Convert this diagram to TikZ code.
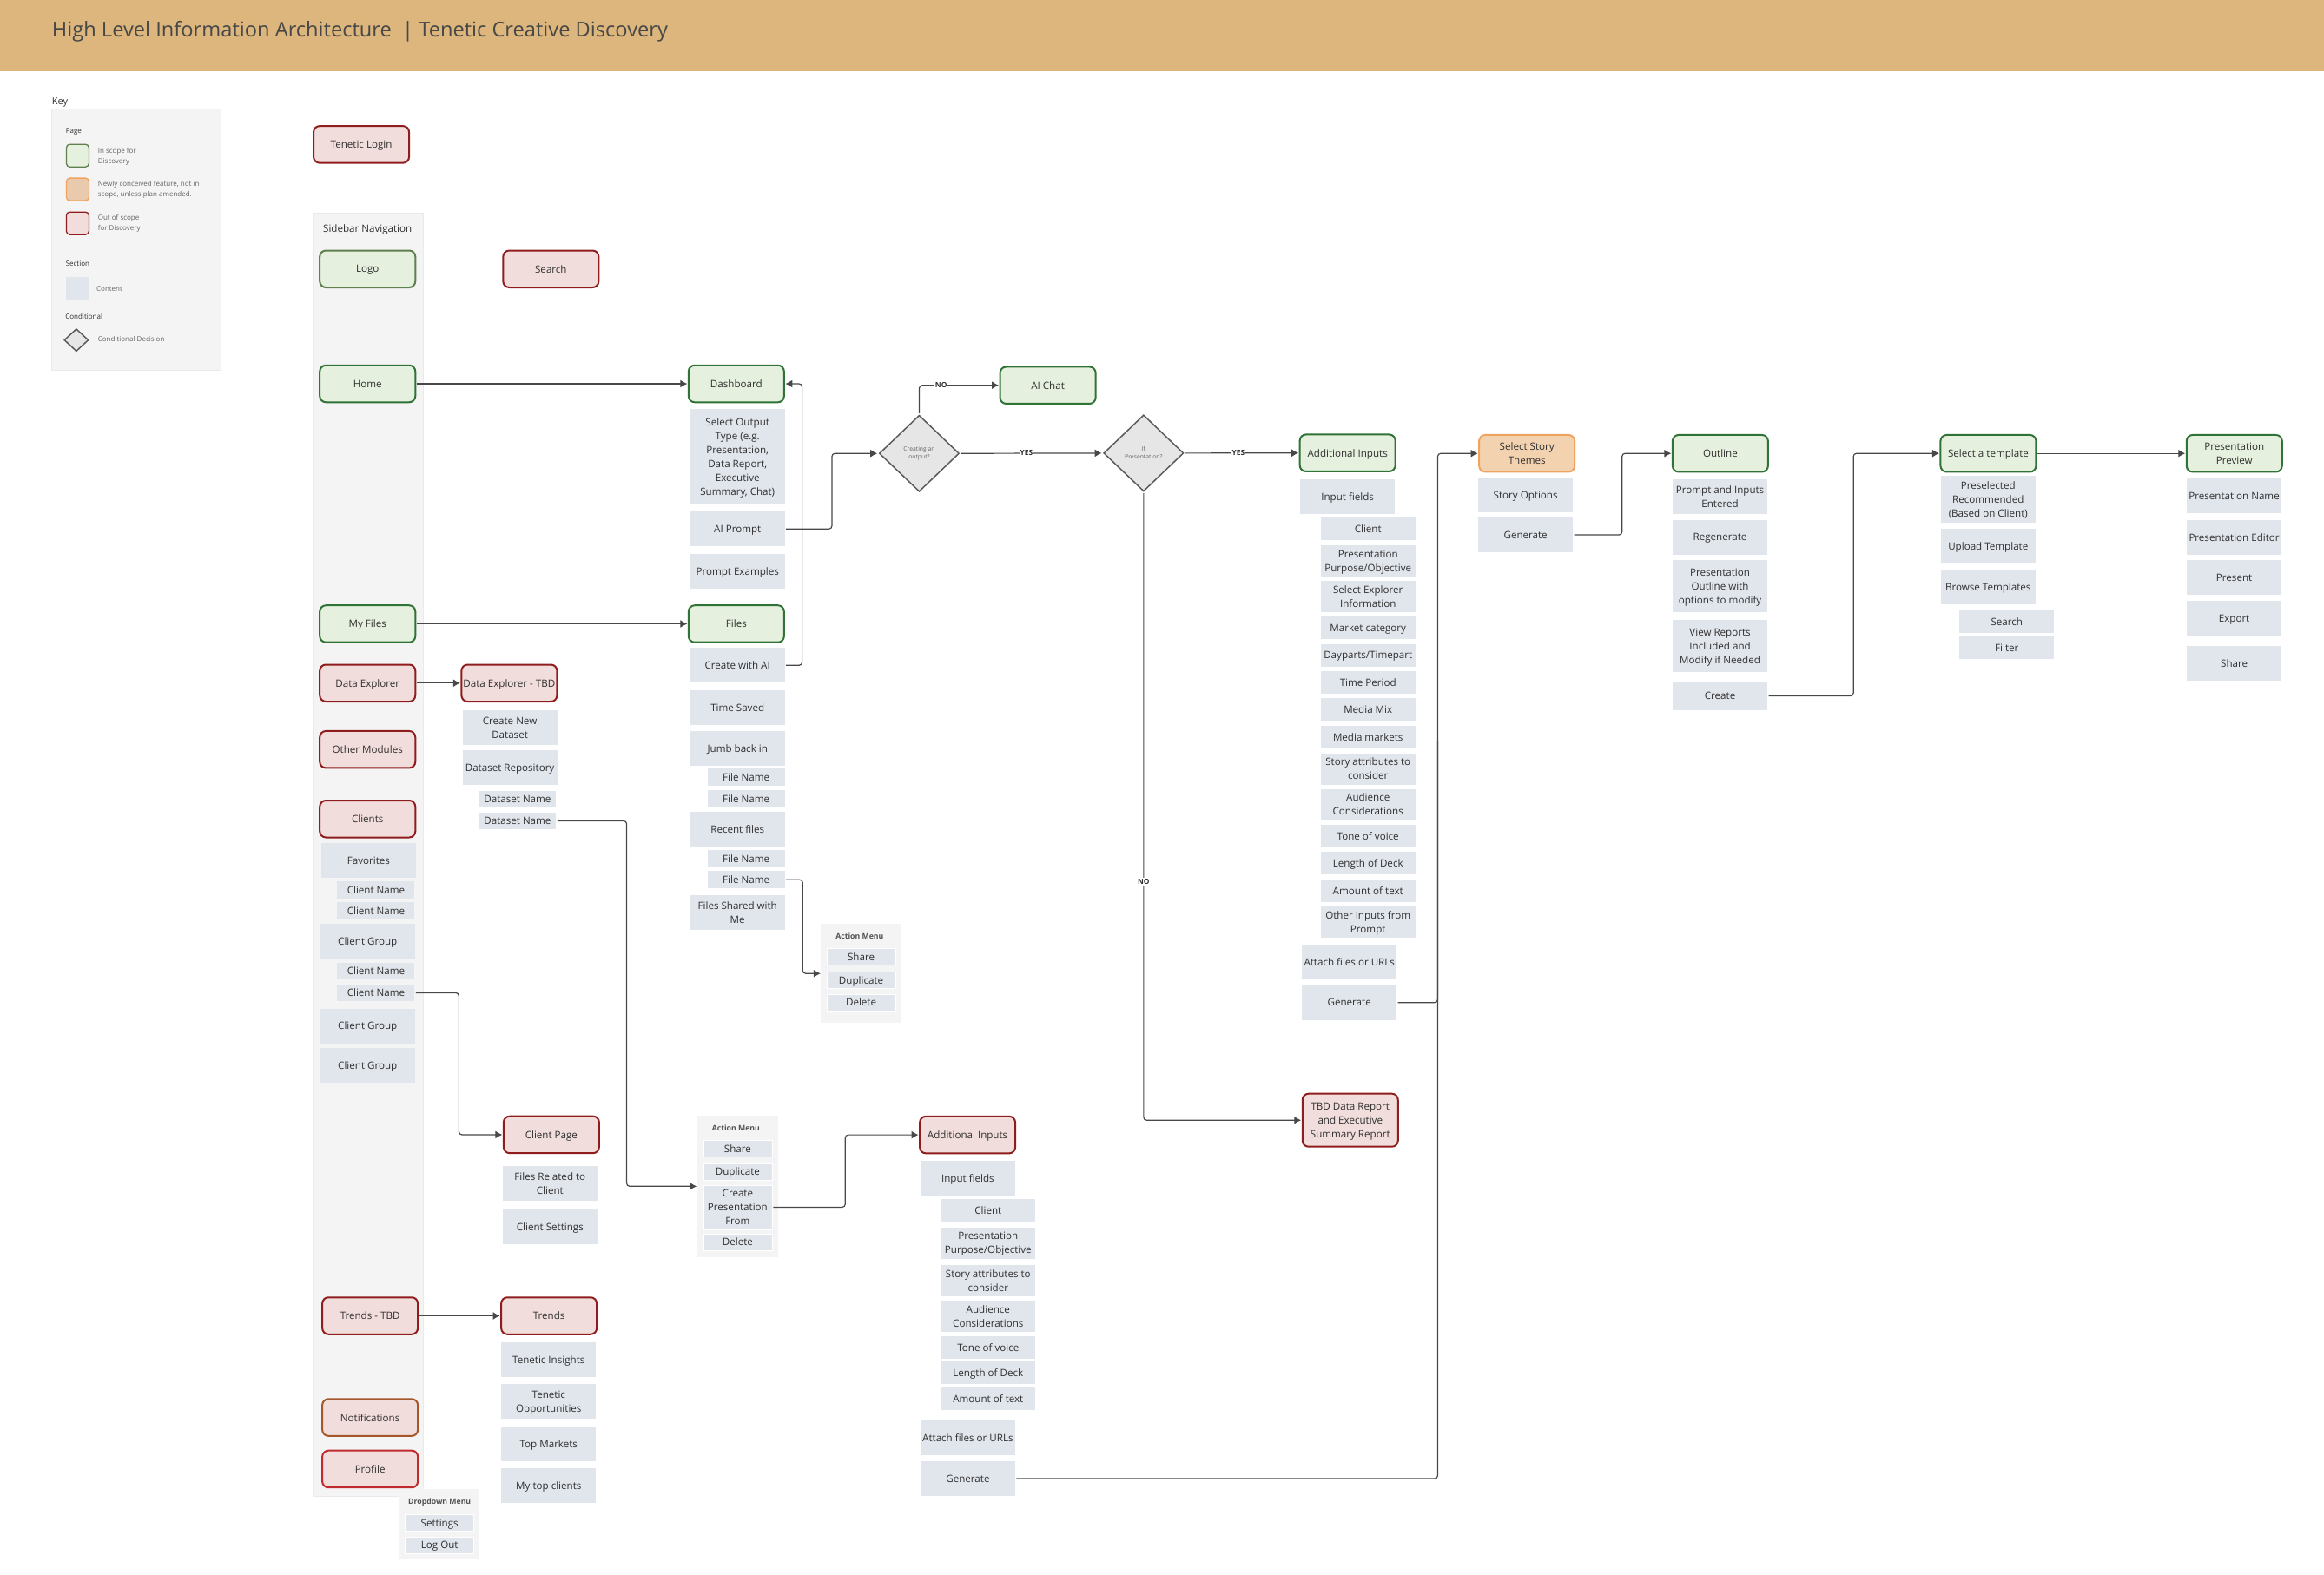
\documentclass[tikz,border=0pt]{standalone}
\usepackage{fontspec}
\setmainfont{Open Sans}
\usetikzlibrary{arrows.meta,shapes.geometric}

\definecolor{headerfill}{HTML}{DCB67C}
\definecolor{titleink}{HTML}{474747}
\definecolor{bodyink}{HTML}{303030}
\definecolor{keyink}{HTML}{666666}
\definecolor{panelfill}{HTML}{F4F4F4}
\definecolor{panelline}{HTML}{EAEAEA}
\definecolor{contentfill}{HTML}{E1E5EC}
\definecolor{greenfill}{HTML}{E6F0DE}
\definecolor{greenline}{HTML}{2F7336}
\definecolor{oliveline}{HTML}{5F7F4F}
\definecolor{redfill}{HTML}{F1DDDB}
\definecolor{redline}{HTML}{8F1D1D}
\definecolor{rustline}{HTML}{A5562A}
\definecolor{brightline}{HTML}{C02A2D}
\definecolor{orangefill}{HTML}{F3D2B0}
\definecolor{orangeline}{HTML}{F0A35E}
\definecolor{swatchorange}{HTML}{EACAAC}
\definecolor{condfill}{HTML}{E6E6E6}
\definecolor{condline}{HTML}{5A5A5A}
\definecolor{wireink}{HTML}{484848}

\tikzset{
    bodytext/.style={font=\fontsize{11.6}{16}\selectfont, text=bodyink, align=center, inner sep=0pt, outer sep=0pt, text depth=-1pt},
    pagebox/.style={bodytext, rounded corners=7pt, line width=2pt, minimum width=110pt, minimum height=42.5pt},
    inscope/.style={pagebox, fill=greenfill, draw=greenline},
    outscope/.style={pagebox, fill=redfill, draw=redline},
    newidea/.style={pagebox, fill=orangefill, draw=orangeline},
    item/.style={bodytext, fill=contentfill, minimum width=109pt, minimum height=#1},
    item/.default=40pt,
    fielditem/.style={item=26pt},
    fieldtwo/.style={item=36pt},
    subitem/.style={bodytext, fill=contentfill, minimum width=89pt, minimum height=19.5pt},
    menuitem/.style={bodytext, fill=contentfill, draw=white, line width=0.8pt, minimum width=79pt, minimum height=#1},
    menuitem/.default=19pt,
    menuhead/.style={bodytext, font=\fontsize{8.7}{10}\selectfont\bfseries, text=keyink!80!black},
    panel/.style={fill=panelfill, draw=panelline, line width=0.6pt},
    keytext/.style={font=\fontsize{8}{12}\selectfont, text=keyink, align=left, anchor=west, inner sep=0pt, text depth=-1pt},
    keyhead/.style={font=\fontsize{8}{12}\selectfont, text=bodyink, anchor=west, inner sep=0pt, text depth=-1pt},
    swatch/.style={rounded corners=4pt, line width=1.3pt, minimum width=26pt, minimum height=26pt, inner sep=0pt},
    decision/.style={diamond, fill=condfill, draw=condline, line width=1.5pt, inner sep=0pt, align=center,
        font=\fontsize{6.8}{9}\selectfont, text=keyink, minimum width=92pt, minimum height=88pt},
    answer/.style={font=\fontsize{8.4}{10}\selectfont\bfseries, text=bodyink, fill=white, inner sep=1pt},
    wire/.style={draw=wireink, line width=1.2pt, rounded corners=3.5pt, shorten <=1.5pt},
    arrow/.style={wire, -{Latex[length=8pt,width=9pt]}, shorten >=1.5pt},
}

\begin{document}
\begin{tikzpicture}[x=1.70663pt, y=-1.70663pt]
        \useasboundingbox (0,0) rectangle (1568,1062.9);

        % Header
        \fill[headerfill] (0,0) rectangle (1568,47.9);
        \node[anchor=west, inner sep=0pt, font=\fontsize{23.65}{28}\selectfont, text=titleink, text depth=-1pt] (title) at (35,19.5)
            {High Level Information Architecture~~| Tenetic Creative Discovery};

        % Panels
        \draw[panel] (35,73.4) rectangle (149,250);
        \draw[panel] (211,144) rectangle (285.5,1010);
        \fill[panelfill] (269.5,1005) rectangle (323.6,1052);
        \fill[panelfill] (554,623.4) rectangle (608.3,690);
        \fill[panelfill] (470.5,753) rectangle (524.8,848.3);

        % Key
        \node[anchor=west, inner sep=0pt, font=\fontsize{11}{12}\selectfont, text=bodyink, text depth=-1pt] (keylabel) at (35,68.5) {Key};
        \node[keyhead] (keypage) at (44.3,88) {Page};
        \node[swatch, fill=greenfill, draw=oliveline] (swatchA) at (52.4,105) {};
        \node[keytext] (keyA) at (66,105) {In scope for\\Discovery};
        \node[swatch, fill=swatchorange, draw=orangeline] (swatchB) at (52.4,127.8) {};
        \node[keytext] (keyB) at (66,127.3) {Newly conceived feature, not in\\scope, unless plan amended.};
        \node[swatch, fill=redfill, draw=redline] (swatchC) at (52.4,150.7) {};
        \node[keytext] (keyC) at (66,150) {Out of scope\\for Discovery};
        \node[keyhead] (keysection) at (44.3,177.7) {Section};
        \node[fill=contentfill, minimum width=26.5pt, minimum height=26.5pt, inner sep=0pt] (swatchD) at (52.2,194.8) {};
        \node[keytext] (keyD) at (65,195) {Content};
        \node[keyhead] (keycond) at (44,213.7) {Conditional};
        \node[decision, minimum width=28pt, minimum height=26pt] (swatchE) at (51.5,229.5) {};
        \node[keytext] (keyE) at (66,229) {Conditional Decision};

        % Sidebar
        \node[outscope] (login) at (243.8,97.5) {Tenetic Login};
        \node[bodytext] (sidebar) at (248,154) {Sidebar Navigation};
        \node[inscope, draw=oliveline] (logo) at (248,181.5) {Logo};
        \node[outscope] (search) at (371.7,181.5) {Search};
        \node[inscope] (home) at (248,259) {Home};
        \node[inscope] (myfiles) at (248,421) {My Files};
        \node[outscope] (explorer) at (248,461) {Data Explorer};
        \node[outscope] (modules) at (248,505.8) {Other Modules};
        \node[outscope] (clients) at (248,552.7) {Clients};
        \node[item] (favorites) at (248.7,580.8) {Favorites};
        \foreach \y/\n in {600.5/clientA,614.7/clientB,655.4/clientC,670/clientD} {
            \node[subitem] (\n) at (253.7,\y) {Client Name};
        }
        \foreach \y/\n in {635/groupA,692.3/groupB,719/groupC} {
            \node[item] (\n) at (248,\y) {Client Group};
        }
        \node[outscope] (trendstbd) at (249.7,888) {Trends - TBD};
        \node[outscope, draw=rustline] (notify) at (249.7,956.6) {Notifications};
        \node[outscope, draw=brightline] (profile) at (249.7,991.4) {Profile};

        % Dropdown Menu
        \node[menuhead] (dropdown) at (296.6,1013.3) {Dropdown Menu};
        \node[menuitem] (settings) at (296.6,1027.6) {Settings};
        \node[menuitem] (logout) at (296.6,1042.8) {Log Out};

        % Data Explorer
        \node[outscope] (explorerpage) at (343.6,461) {Data Explorer - TBD};
        \node[item] (newset) at (344,491) {Create New\\Dataset};
        \node[item] (repo) at (344,518) {Dataset Repository};
        \node[subitem] (setA) at (349.2,539.5) {Dataset Name};
        \node[subitem] (setB) at (349.2,554) {Dataset Name};

        % Client Page
        \node[outscope] (clientpage) at (372,765.8) {Client Page};
        \node[item] (related) at (371.1,798.9) {Files Related to\\Client};
        \node[item] (clientset) at (371.1,828.2) {Client Settings};

        % Trends
        \node[outscope] (trends) at (370.4,888) {Trends};
        \node[item] (insights) at (370.2,917.6) {Tenetic Insights};
        \node[item] (opport) at (370.2,946) {Tenetic\\Opportunities};
        \node[item] (markets) at (370.2,974.4) {Top Markets};
        \node[item] (topclients) at (370.2,1002.7) {My top clients};

        % Dashboard
        \node[inscope] (dashboard) at (496.8,259) {Dashboard};
        \node[item=110pt] (output) at (497.6,308) {Select Output\\Type (e.g.\\Presentation,\\Data Report,\\Executive\\Summary, Chat)};
        \node[item] (prompt) at (497.6,357) {AI Prompt};
        \node[item] (examples) at (497.6,385.8) {Prompt Examples};

        % Files
        \node[inscope] (files) at (496.8,421) {Files};
        \node[item] (createai) at (497.6,449) {Create with AI};
        \node[item] (saved) at (497.6,477.6) {Time Saved};
        \node[item] (jump) at (497.6,505) {Jumb back in};
        \node[item] (recent) at (497.6,559.6) {Recent files};
        \node[item] (shared) at (497.6,616) {Files Shared with\\Me};
        \foreach \y/\n in {524.4/fileA,539/fileB,579.5/fileC,593.7/fileD} {
            \node[subitem] (\n) at (503.4,\y) {File Name};
        }

        % Action Menu of Files
        \node[menuhead] (menuA) at (580,631.6) {Action Menu};
        \node[menuitem] (shareA) at (581,645.9) {Share};
        \node[menuitem] (dupA) at (581,661.4) {Duplicate};
        \node[menuitem] (delA) at (581,676.5) {Delete};

        % Action Menu of Datasets
        \node[menuhead] (menuB) at (496.5,761) {Action Menu};
        \node[menuitem] (shareB) at (497.7,775) {Share};
        \node[menuitem] (dupB) at (497.7,790.7) {Duplicate};
        \node[menuitem=51pt] (makeB) at (497.7,814.7) {Create\\Presentation\\From};
        \node[menuitem] (delB) at (497.7,838.2) {Delete};

        % Additional Inputs from Datasets
        \node[outscope] (addred) at (652.8,765.9) {Additional Inputs};
        \node[item] (fieldsred) at (653,795.3) {Input fields};
        \node[fielditem] (redA) at (666.7,817) {Client};
        \node[fieldtwo] (redB) at (666.7,838.8) {Presentation\\Purpose/Objective};
        \node[fieldtwo] (redC) at (666.7,864.2) {Story attributes to\\consider};
        \node[fieldtwo] (redD) at (666.7,888.1) {Audience\\Considerations};
        \node[fielditem] (redE) at (666.7,909.2) {Tone of voice};
        \node[fielditem] (redF) at (666.7,926.4) {Length of Deck};
        \node[fielditem] (redG) at (666.7,944) {Amount of text};
        \node[item] (attachred) at (653,970.3) {Attach files or URLs};
        \node[item] (genred) at (653,997.9) {Generate};

        % Decisions
        \node[decision] (creating) at (620.2,306) {Creating an\\output?};
        \node[decision] (ifpres) at (771.6,305.8) {If\\Presentation?};
        \node[inscope] (aichat) at (707,260) {AI Chat};

        % Additional Inputs
        \node[inscope] (addinputs) at (909.2,305.7) {Additional Inputs};
        \node[item] (fields) at (909.2,335.4) {Input fields};
        \node[fielditem] (inA) at (923,357) {Client};
        \node[fieldtwo] (inB) at (923,378.5) {Presentation\\Purpose/Objective};
        \node[fieldtwo] (inC) at (923,402.5) {Select Explorer\\Information};
        \node[fielditem] (inD) at (923,423.7) {Market category};
        \node[fielditem] (inE) at (923,442.2) {Dayparts/Timepart};
        \node[fielditem] (inF) at (923,460.4) {Time Period};
        \node[fielditem] (inG) at (923,479) {Media Mix};
        \node[fielditem] (inH) at (923,497.5) {Media markets};
        \node[fieldtwo] (inI) at (923,518.9) {Story attributes to\\consider};
        \node[fieldtwo] (inJ) at (923,542.9) {Audience\\Considerations};
        \node[fielditem] (inK) at (923,564.2) {Tone of voice};
        \node[fielditem] (inL) at (923,582.7) {Length of Deck};
        \node[fielditem] (inM) at (923,601) {Amount of text};
        \node[fieldtwo] (inN) at (923,622.4) {Other Inputs from\\Prompt};
        \node[item] (attach) at (910.4,649) {Attach files or URLs};
        \node[item] (generate) at (910.4,676.6) {Generate};
        \node[outscope, minimum height=61pt] (tbdreport) at (911,756) {TBD Data Report\\and Executive\\Summary Report};

        % Story Themes
        \node[newidea] (themes) at (1030.2,306) {Select Story\\Themes};
        \node[item] (options) at (1029.3,334) {Story Options};
        \node[item] (gentheme) at (1029.3,361) {Generate};

        % Outline
        \node[inscope] (outline) at (1160.7,306) {Outline};
        \node[item] (entered) at (1160.5,335.2) {Prompt and Inputs\\Entered};
        \node[item] (regen) at (1160.5,362.5) {Regenerate};
        \node[item=60pt] (presout) at (1160.5,395.6) {Presentation\\Outline with\\options to modify};
        \node[item=60pt] (reports) at (1160.5,436) {View Reports\\Included and\\Modify if Needed};
        \node[item=33pt] (create) at (1160.5,469.7) {Create};

        % Templates
        \node[inscope] (template) at (1341.5,306) {Select a template};
        \node[item=54pt] (preselect) at (1341.4,337) {Preselected\\Recommended\\(Based on Client)};
        \node[item] (upload) at (1341.4,368.6) {Upload Template};
        \node[item] (browse) at (1341.4,396.2) {Browse Templates};
        \node[fielditem] (tsearch) at (1354,419.8) {Search};
        \node[fielditem] (tfilter) at (1354,437.2) {Filter};

        % Presentation Preview
        \node[inscope] (preview) at (1507.5,306) {Presentation\\Preview};
        \node[item] (presname) at (1507.4,334.5) {Presentation Name};
        \node[item] (preseditor) at (1507.4,362.6) {Presentation Editor};
        \node[item] (present) at (1507.4,389.8) {Present};
        \node[item] (export) at (1507.4,417.2) {Export};
        \node[item] (pshare) at (1507.4,447.6) {Share};

        % Bends and free ends of the connectors
        \coordinate (bendclient) at (309.6,720);
        \coordinate (bendset) at (422.8,680);
        \coordinate (bendfile) at (541.6,625);
        \coordinate (bendai) at (541.2,350);
        \coordinate (bendprompt) at (561.3,330);
        \coordinate (bendmake) at (570.3,790);
        \coordinate (bendinputs) at (970,500);
        \coordinate (bendtheme) at (1094.4,330);
        \coordinate (bendcreate) at (1250.5,390);
        \coordinate (menuAin) at (554.5,657);
        \coordinate (menuBin) at (471,800.6);

        % Straight connectors
        \draw[arrow] (home.east) -- (dashboard.west);
        \draw[arrow] (myfiles.east) -- (files.west);
        \draw[arrow] (explorer.east) -- (explorerpage.west);
        \draw[arrow] (trendstbd.east) -- (trends.west);
        \draw[arrow] (creating.east) -- (ifpres.west);
        \draw[arrow] (ifpres.east) -- (addinputs.west);
        \draw[arrow] (template.east) -- (preview.west);

        % Connectors with bends
        \draw[arrow] (clientD.east) -| (bendclient) |- (clientpage.west);
        \draw[arrow] (setB.east) -| (bendset) |- (menuBin);
        \draw[arrow] (fileD.east) -| (bendfile) |- (menuAin);
        \draw[arrow] (createai.east) -| (bendai) |- (dashboard.east);
        \draw[arrow] (prompt.east) -| (bendprompt) |- (creating.west);
        \draw[arrow] (makeB.east) -| (bendmake) |- (addred.west);
        \draw[arrow] (creating.north) |- (aichat.west);
        \draw[arrow] (ifpres.south) |- (tbdreport.west);
        \draw[wire] (generate.east) -| (bendinputs);
        \draw[arrow] (genred.east) -| (bendinputs) |- (themes.west);
        \draw[arrow] (gentheme.east) -| (bendtheme) |- (outline.west);
        \draw[arrow] (create.east) -| (bendcreate) |- (template.west);

        % Answers
        \node[answer] (noA) at (635,260) {NO};
        \node[answer] (yesA) at (692.5,305.8) {YES};
        \node[answer] (yesB) at (835.5,305.7) {YES};
        \node[answer] (noB) at (771.6,595) {NO};
\end{tikzpicture}
\end{document}
